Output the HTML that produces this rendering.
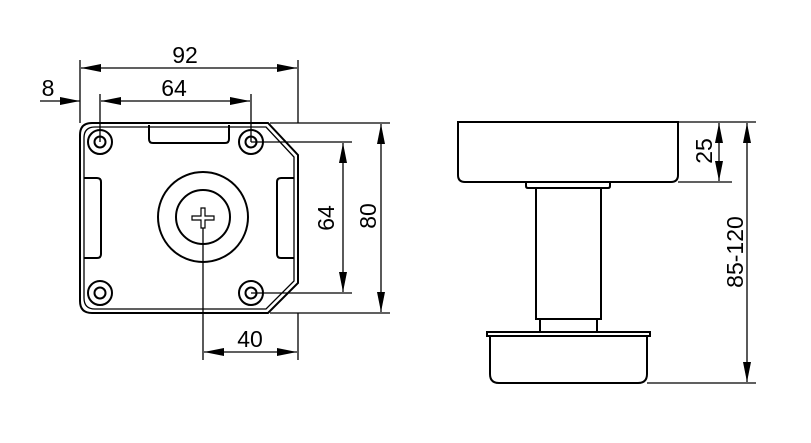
<!DOCTYPE html>
<html><head><meta charset="utf-8"><style>html,body{margin:0;padding:0;background:#fff}svg{display:block}</style></head><body>
<svg width="811" height="443" viewBox="0 0 811 443" xmlns="http://www.w3.org/2000/svg" font-family="Liberation Sans, sans-serif" font-size="23" fill="none" stroke="#000">
<defs>
<marker id="a" viewBox="0 0 20 8" refX="20" refY="4" markerWidth="20" markerHeight="8" markerUnits="userSpaceOnUse" orient="auto-start-reverse"><path d="M0,0L20,4L0,8z" fill="#000" stroke="none"/></marker>
</defs>
<g stroke-width="2">
<path d="M92,123H268L298,155V283L268,313H92Q80,313 80,301V135Q80,123 92,123Z"/>
<path d="M95,127H266L294,157V281L266,309H95Q84,309 84,298V138Q84,127 95,127Z" stroke-width="1.3"/>
<path d="M149,125V139Q149,143 153,143H225Q229,143 229,139V125"/>
<path d="M84,178H97Q101,178 101,182V254Q101,258 97,258H84"/>
<path d="M294,178H281Q277,178 277,182V254Q277,258 281,258H294"/>
<circle cx="100" cy="142" r="12"/><circle cx="100" cy="142" r="5.5"/>
<circle cx="251" cy="142" r="12"/><circle cx="251" cy="142" r="5.5"/>
<circle cx="100" cy="293" r="12"/><circle cx="100" cy="293" r="5.5"/>
<circle cx="251" cy="293" r="12"/><circle cx="251" cy="293" r="5.5"/>
<circle cx="203" cy="217" r="45"/><circle cx="203" cy="217" r="27"/>
<path d="M201,208H205V216H214V220H205V228H201V220H192V216H201Z" stroke-width="1.2"/>
</g>
<g stroke-width="1.3">
<path d="M80,60V123M298,60V123M100,94V142M251,94V142"/>
<path d="M81,68H297" marker-start="url(#a)" marker-end="url(#a)"/>
<path d="M101,101H250" marker-start="url(#a)" marker-end="url(#a)"/>
<path d="M40,101H80" marker-end="url(#a)"/>
<path d="M270,123H390M251,142H352M251,293H352M270,313H390"/>
<path d="M343,143V292" marker-start="url(#a)" marker-end="url(#a)"/>
<path d="M381,124V312" marker-start="url(#a)" marker-end="url(#a)"/>
<path d="M203,228V360M298,313V360"/>
<path d="M204,352H297" marker-start="url(#a)" marker-end="url(#a)"/>
</g>
<g fill="#000" stroke="none">
<text x="185" y="63" text-anchor="middle">92</text>
<text x="174" y="96" text-anchor="middle">64</text>
<text x="48" y="96" text-anchor="middle">8</text>
<text x="250" y="347" text-anchor="middle">40</text>
<text transform="translate(334,218) rotate(-90)" text-anchor="middle">64</text>
<text transform="translate(376,216) rotate(-90)" text-anchor="middle">80</text>
<text transform="translate(712,151) rotate(-90)" text-anchor="middle">25</text>
<text transform="translate(743,252) rotate(-90)" text-anchor="middle">85-120</text>
</g>
<g stroke-width="2">
<path d="M458,122H678V175Q678,182 671,182H465Q458,182 458,175Z"/>
<path d="M526,181V186Q526,188 528,188H608Q610,188 610,186V181"/>
<path d="M536,188V319H601V188"/>
<path d="M540,319V332M597,319V332"/>
<path d="M487,332H650V336H487Z"/>
<path d="M490,336V374Q490,383 499,383H638Q647,383 647,374V336"/>
</g>
<g stroke-width="1.3">
<path d="M678,122H756M678,182H732M647,383H756"/>
<path d="M719,123V181" marker-start="url(#a)" marker-end="url(#a)"/>
<path d="M747,123V382" marker-start="url(#a)" marker-end="url(#a)"/>
</g>
</svg>
</body></html>
